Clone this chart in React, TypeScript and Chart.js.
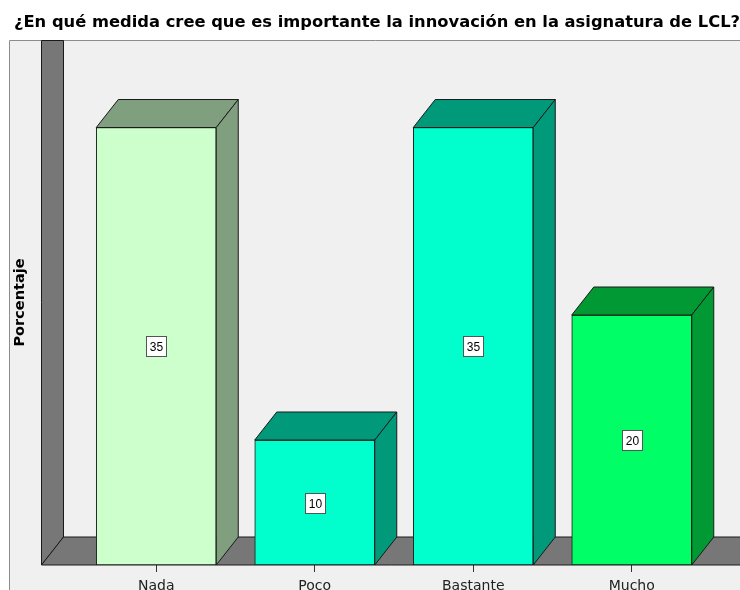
import React, { useEffect, useRef } from 'react';
import { Chart, registerables } from 'chart.js';

Chart.register(...registerables);

const titleText = '¿En qué medida cree que es importante la innovación en la asignatura de LCL?';
const yTitle = 'Porcentaje';
const categories = ['Nada', 'Poco', 'Bastante', 'Mucho'];
const percentages = [35, 10, 35, 20];
const frontColors = ['#CCFFCC', '#00FFCC', '#00FFCC', '#00FF66'];
const sideColors = ['#7F9F7F', '#00997A', '#00997A', '#009933'];
const yMin = 0;
const yMax = 42;

const FONT = "'Liberation Sans', Arial, sans-serif";
const WIDE = "'DejaVu Sans', 'Liberation Sans', sans-serif";
const DX = 22;
const DY = 28;

const scenePlugin = {
  id: 'scene3d',
  beforeDraw(chart: any) {
    const { ctx, width, height } = chart;
    ctx.save();
    ctx.fillStyle = '#ffffff';
    ctx.fillRect(0, 0, width, height);
    ctx.fillStyle = '#F0F0F0';
    ctx.fillRect(10, 40, width, height);
    ctx.strokeStyle = '#8c8c8c';
    ctx.lineWidth = 1;
    ctx.beginPath();
    ctx.moveTo(9.5, height + 2);
    ctx.lineTo(9.5, 40.5);
    ctx.lineTo(width + 2, 40.5);
    ctx.stroke();
    ctx.restore();
  },
  beforeDatasetsDraw(chart: any) {
    const { ctx, chartArea, width } = chart;
    const y0 = chart.scales.y.getPixelForValue(0);
    const wx = Math.round(chartArea.left - 36) + 0.5;
    ctx.save();
    ctx.fillStyle = '#777777';
    ctx.strokeStyle = '#1a1a1a';
    ctx.lineWidth = 1;
    // side wall
    ctx.beginPath();
    ctx.moveTo(wx, 40.5);
    ctx.lineTo(wx + DX, 40.5);
    ctx.lineTo(wx + DX, y0 - DY);
    ctx.lineTo(wx, y0);
    ctx.closePath();
    ctx.fill();
    ctx.stroke();
    // floor
    ctx.beginPath();
    ctx.moveTo(wx, y0);
    ctx.lineTo(wx + DX, y0 - DY);
    ctx.lineTo(width + 2, y0 - DY);
    ctx.lineTo(width + 2, y0);
    ctx.closePath();
    ctx.fill();
    ctx.stroke();
    ctx.restore();
  },
  afterDatasetsDraw(chart: any) {
    const { ctx } = chart;
    const meta = chart.getDatasetMeta(0);
    ctx.save();
    ctx.lineWidth = 1;
    ctx.strokeStyle = '#1a1a1a';
    meta.data.forEach((bar: any, i: number) => {
      const { x, y, base, width } = bar.getProps(['x', 'y', 'base', 'width'], true);
      const l = x - width / 2;
      const r = x + width / 2;
      ctx.fillStyle = sideColors[i];
      ctx.beginPath();
      ctx.moveTo(l, y);
      ctx.lineTo(l + DX, y - DY);
      ctx.lineTo(r + DX, y - DY);
      ctx.lineTo(r, y);
      ctx.closePath();
      ctx.fill();
      ctx.stroke();
      ctx.beginPath();
      ctx.moveTo(r, y);
      ctx.lineTo(r + DX, y - DY);
      ctx.lineTo(r + DX, base - DY);
      ctx.lineTo(r, base);
      ctx.closePath();
      ctx.fill();
      ctx.stroke();
    });
    ctx.font = `12px ${FONT}`;
    ctx.textAlign = 'center';
    ctx.textBaseline = 'middle';
    meta.data.forEach((bar: any, i: number) => {
      const { x, y, base } = bar.getProps(['x', 'y', 'base'], true);
      const cy = (y + base) / 2;
      const bw = 20;
      const bh = 20;
      const bx = Math.round(x - bw / 2) + 0.5;
      const by = Math.round(cy - bh / 2) + 0.5;
      ctx.fillStyle = '#ffffff';
      ctx.fillRect(bx, by, bw, bh);
      ctx.strokeStyle = '#555555';
      ctx.strokeRect(bx, by, bw, bh);
      ctx.fillStyle = '#000000';
      ctx.fillText(String(percentages[i]), bx + bw / 2, by + bh / 2 + 1);
    });
    ctx.restore();
  },
};

export default function App() {
  const canvasRef = useRef<HTMLCanvasElement | null>(null);

  useEffect(() => {
    const canvas = canvasRef.current;
    if (!canvas) return;
    const chart = new Chart(canvas, {
      type: 'bar',
      data: {
        labels: categories,
        datasets: [
          {
            data: percentages,
            backgroundColor: frontColors,
            borderColor: '#1a1a1a',
            borderWidth: 1,
            borderSkipped: false,
            barThickness: 120,
          },
        ],
      },
      options: {
        responsive: false,
        animation: false,
        devicePixelRatio: 1,
        layout: { padding: { left: 14, right: 0, top: 0, bottom: 0 } },
        plugins: {
          legend: { display: false },
          tooltip: { enabled: false },
          title: {
            display: true,
            text: titleText,
            align: 'start',
            color: '#000000',
            font: { family: WIDE, size: 16.6, weight: 'bold' },
            padding: { top: 12.5, bottom: 7.6 },
          },
        },
        scales: {
          x: {
            grid: {
              display: true,
              drawOnChartArea: false,
              drawTicks: true,
              tickLength: 7,
              offset: false,
              color: '#333333',
            },
            border: { display: false },
            ticks: {
              color: '#222222',
              font: { family: WIDE, size: 14 },
              padding: 6,
            },
            afterFit: (axis: any) => {
              axis.height = 25;
            },
          },
          y: {
            min: yMin,
            max: yMax,
            grid: { display: false },
            border: { display: false },
            ticks: { display: false },
            title: {
              display: true,
              text: yTitle,
              color: '#000000',
              font: { family: WIDE, size: 14.5, weight: 'bold' },
              padding: { top: -2, bottom: 0 },
            },
            afterFit: (axis: any) => {
              axis.width = 63;
            },
          },
          yRight: {
            position: 'right',
            min: yMin,
            max: yMax,
            grid: { display: false },
            border: { display: false },
            ticks: { display: false },
            afterFit: (axis: any) => {
              axis.width = 29;
            },
          },
        },
      },
      plugins: [scenePlugin],
    });
    return () => chart.destroy();
  }, []);

  return (
    <div style={{ position: 'absolute', left: 0, top: 0, width: 740, height: 590 }}>
      <canvas ref={canvasRef} width={740} height={590} />
    </div>
  );
}
